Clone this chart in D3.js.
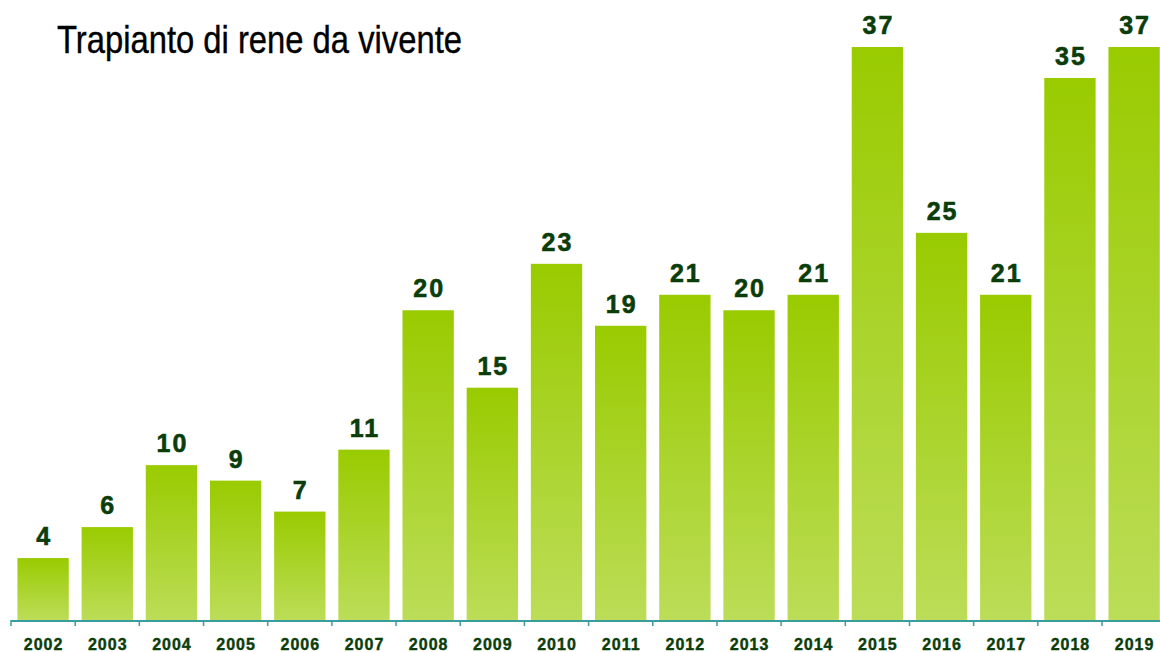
<!DOCTYPE html>
<html>
<head>
<meta charset="utf-8">
<script src="https://cdn.jsdelivr.net/npm/d3@7"></script>
<style>
  body { margin: 0; background: #fff; }
  svg { display: block; }
</style>
</head>
<body>
<svg id="chart" width="1160" height="652"></svg>
<script>
const years = ["2002", "2003", "2004", "2005", "2006", "2007", "2008", "2009", "2010",
  "2011", "2012", "2013", "2014", "2015", "2016", "2017", "2018", "2019"];
const transplants = [4, 6, 10, 9, 7, 11, 20, 15, 23, 19, 21, 20, 21, 37, 25, 21, 35, 37];
const title = "Trapianto di rene da vivente";

const data = years.map((y, i) => ({ year: y, value: transplants[i] }));

const svg = d3.select("#chart");
const baseline = 620;

const xScale = d3.scaleBand()
  .domain(years)
  .range([11, 1102 + 64.2])
  .paddingInner(0.2)
  .paddingOuter(0.1);

const yScale = d3.scaleLinear()
  .domain([0, 37])
  .range([baseline, 47]);

const grad = svg.append("defs")
  .append("linearGradient")
  .attr("id", "barGrad")
  .attr("x1", 0).attr("y1", 0)
  .attr("x2", 0).attr("y2", 1);
grad.append("stop").attr("offset", "0%").attr("stop-color", "#99cb00");
grad.append("stop").attr("offset", "100%").attr("stop-color", "#bcdd58");

// no narrow font installed, so squeeze the title to the reference width
svg.append("text")
  .attr("x", 57)
  .attr("y", 53)
  .attr("font-family", "'Liberation Sans Narrow', 'Arial Narrow', 'Liberation Sans', sans-serif")
  .attr("font-size", 39)
  .attr("textLength", 405)
  .attr("lengthAdjust", "spacingAndGlyphs")
  .attr("stroke", "#000")
  .attr("stroke-width", 0.4)
  .attr("fill", "#000")
  .text(title);

svg.selectAll("rect.bar")
  .data(data)
  .join("rect")
  .attr("class", "bar")
  .attr("x", d => xScale(d.year))
  .attr("y", d => yScale(d.value))
  .attr("width", xScale.bandwidth())
  .attr("height", d => baseline - yScale(d.value))
  .attr("fill", "url(#barGrad)");

svg.selectAll("text.value")
  .data(data)
  .join("text")
  .attr("class", "value")
  .attr("x", d => xScale(d.year) + xScale.bandwidth() / 2 + 1)
  .attr("y", d => yScale(d.value) - 13)
  .attr("text-anchor", "middle")
  .attr("font-family", "'Liberation Sans', Arial, sans-serif")
  .attr("font-weight", "bold")
  .attr("font-size", 25)
  .attr("letter-spacing", 2)
  .attr("fill", "#0b3d0b")
  .attr("stroke", "#0b3d0b")
  .attr("stroke-width", 0.6)
  .text(d => d.value);

const axis = svg.append("g")
  .attr("transform", `translate(0,${baseline})`)
  .call(d3.axisBottom(xScale).tickSize(0).tickPadding(0));
axis.select(".domain").remove();
axis.selectAll("text")
  .attr("x", 0.5)
  .attr("y", 30)
  .attr("dy", 0)
  .attr("font-family", "'Liberation Sans', Arial, sans-serif")
  .attr("font-weight", "bold")
  .attr("font-size", 16)
  .attr("letter-spacing", 1)
  .attr("fill", "#0b3d0b")
  .attr("stroke", "#0b3d0b")
  .attr("stroke-width", 0.4);

axis.append("line")
  .attr("x1", 11).attr("x2", 1160)
  .attr("y1", 1).attr("y2", 1)
  .attr("stroke", "#3a9c9c")
  .attr("stroke-width", 2);

const bounds = years.map(y => xScale(y) - xScale.step() * xScale.paddingInner() / 2);
axis.selectAll("line.tick-mark")
  .data(bounds)
  .join("line")
  .attr("class", "tick-mark")
  .attr("x1", d => d).attr("x2", d => d)
  .attr("y1", 0).attr("y2", 6)
  .attr("stroke", "#3a9c9c")
  .attr("stroke-width", 1.5);
</script>
</body>
</html>
